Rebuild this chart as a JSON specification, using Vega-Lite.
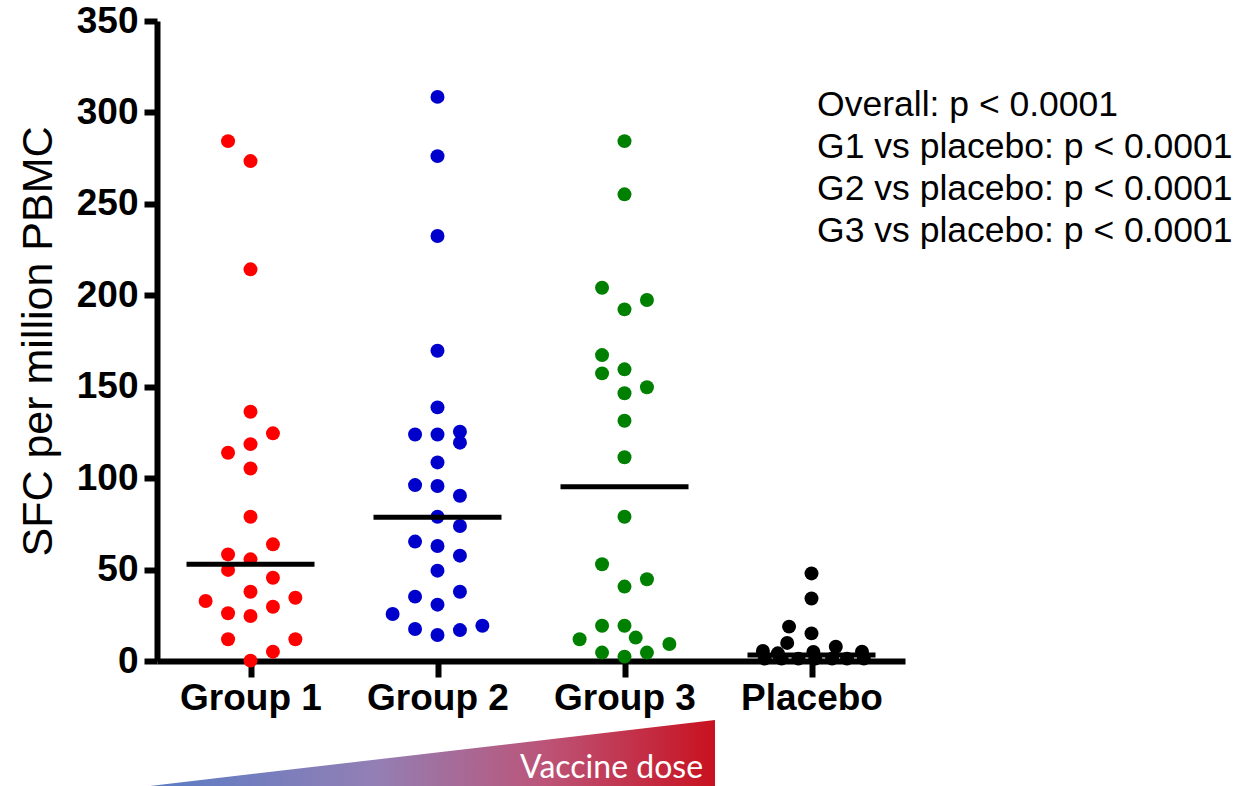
{
  "$schema": "https://vega.github.io/schema/vega-lite/v6.json",
  "autosize": {"type": "none"},
  "padding": {"left": 157, "top": 21, "right": 334, "bottom": 125},
  "width": 748,
  "height": 640,
  "config": {"view": {"stroke": null}, "font": "Liberation Sans"},
  "datasets": {
    "points": [
      {"group": "Group 1", "x": 0.88, "value": 284.3},
      {"group": "Group 1", "x": 1.0, "value": 273.4},
      {"group": "Group 1", "x": 1.0, "value": 214.2},
      {"group": "Group 1", "x": 1.0, "value": 136.3},
      {"group": "Group 1", "x": 1.12, "value": 124.5},
      {"group": "Group 1", "x": 1.0, "value": 118.6},
      {"group": "Group 1", "x": 0.88, "value": 113.9},
      {"group": "Group 1", "x": 1.0, "value": 105.3},
      {"group": "Group 1", "x": 1.0, "value": 78.9},
      {"group": "Group 1", "x": 1.12, "value": 63.8},
      {"group": "Group 1", "x": 0.88, "value": 58.3},
      {"group": "Group 1", "x": 1.0, "value": 55.6},
      {"group": "Group 1", "x": 0.88, "value": 49.8},
      {"group": "Group 1", "x": 1.12, "value": 45.5},
      {"group": "Group 1", "x": 1.0, "value": 37.9},
      {"group": "Group 1", "x": 0.76, "value": 32.8},
      {"group": "Group 1", "x": 1.24, "value": 34.6},
      {"group": "Group 1", "x": 0.88, "value": 26.1},
      {"group": "Group 1", "x": 1.12, "value": 29.7},
      {"group": "Group 1", "x": 1.0, "value": 24.6},
      {"group": "Group 1", "x": 0.88, "value": 11.9},
      {"group": "Group 1", "x": 1.24, "value": 11.9},
      {"group": "Group 1", "x": 1.12, "value": 5.1},
      {"group": "Group 1", "x": 1.0, "value": 0.2},
      {"group": "Group 2", "x": 2.0, "value": 308.5},
      {"group": "Group 2", "x": 2.0, "value": 276.1},
      {"group": "Group 2", "x": 2.0, "value": 232.4},
      {"group": "Group 2", "x": 2.0, "value": 169.7},
      {"group": "Group 2", "x": 2.0, "value": 138.7},
      {"group": "Group 2", "x": 1.88, "value": 123.9},
      {"group": "Group 2", "x": 2.0, "value": 123.9},
      {"group": "Group 2", "x": 2.12, "value": 125.4},
      {"group": "Group 2", "x": 2.12, "value": 119.4},
      {"group": "Group 2", "x": 2.0, "value": 108.6},
      {"group": "Group 2", "x": 1.88, "value": 96.2},
      {"group": "Group 2", "x": 2.0, "value": 95.7},
      {"group": "Group 2", "x": 2.12, "value": 90.4},
      {"group": "Group 2", "x": 2.0, "value": 78.9},
      {"group": "Group 2", "x": 2.12, "value": 73.8},
      {"group": "Group 2", "x": 1.88, "value": 65.3},
      {"group": "Group 2", "x": 2.0, "value": 62.9},
      {"group": "Group 2", "x": 2.12, "value": 57.6},
      {"group": "Group 2", "x": 2.0, "value": 49.4},
      {"group": "Group 2", "x": 1.88, "value": 35.2},
      {"group": "Group 2", "x": 2.12, "value": 37.9},
      {"group": "Group 2", "x": 2.0, "value": 30.8},
      {"group": "Group 2", "x": 1.76, "value": 25.7},
      {"group": "Group 2", "x": 1.88, "value": 17.5},
      {"group": "Group 2", "x": 2.0, "value": 14.2},
      {"group": "Group 2", "x": 2.12, "value": 16.9},
      {"group": "Group 2", "x": 2.24, "value": 19.3},
      {"group": "Group 3", "x": 3.0, "value": 284.3},
      {"group": "Group 3", "x": 3.0, "value": 255.2},
      {"group": "Group 3", "x": 2.88, "value": 204.1},
      {"group": "Group 3", "x": 3.12, "value": 197.4},
      {"group": "Group 3", "x": 3.0, "value": 192.3},
      {"group": "Group 3", "x": 2.88, "value": 167.3},
      {"group": "Group 3", "x": 2.88, "value": 157.3},
      {"group": "Group 3", "x": 3.0, "value": 159.5},
      {"group": "Group 3", "x": 3.0, "value": 146.4},
      {"group": "Group 3", "x": 3.12, "value": 149.7},
      {"group": "Group 3", "x": 3.0, "value": 131.4},
      {"group": "Group 3", "x": 3.0, "value": 111.4},
      {"group": "Group 3", "x": 3.0, "value": 78.9},
      {"group": "Group 3", "x": 2.88, "value": 52.9},
      {"group": "Group 3", "x": 3.0, "value": 40.7},
      {"group": "Group 3", "x": 3.12, "value": 44.7},
      {"group": "Group 3", "x": 2.88, "value": 19.3},
      {"group": "Group 3", "x": 3.0, "value": 19.3},
      {"group": "Group 3", "x": 2.76, "value": 11.9},
      {"group": "Group 3", "x": 3.06, "value": 12.8},
      {"group": "Group 3", "x": 3.24, "value": 9.3},
      {"group": "Group 3", "x": 2.88, "value": 4.6},
      {"group": "Group 3", "x": 3.0, "value": 2.4},
      {"group": "Group 3", "x": 3.12, "value": 4.6},
      {"group": "Placebo", "x": 4.0, "value": 47.9},
      {"group": "Placebo", "x": 4.0, "value": 34.2},
      {"group": "Placebo", "x": 3.88, "value": 18.8},
      {"group": "Placebo", "x": 4.0, "value": 15.1},
      {"group": "Placebo", "x": 3.87, "value": 9.9},
      {"group": "Placebo", "x": 4.13, "value": 7.8},
      {"group": "Placebo", "x": 3.74, "value": 5.5},
      {"group": "Placebo", "x": 4.27, "value": 5.1},
      {"group": "Placebo", "x": 4.01, "value": 5.0},
      {"group": "Placebo", "x": 3.82, "value": 4.2},
      {"group": "Placebo", "x": 3.75, "value": 1.3},
      {"group": "Placebo", "x": 3.84, "value": 1.3},
      {"group": "Placebo", "x": 3.93, "value": 1.3},
      {"group": "Placebo", "x": 4.02, "value": 1.3},
      {"group": "Placebo", "x": 4.11, "value": 1.3},
      {"group": "Placebo", "x": 4.19, "value": 1.3},
      {"group": "Placebo", "x": 4.28, "value": 1.3}
    ],
    "medians": [
      {"group": "Group 1", "x": 1, "median": 52.9},
      {"group": "Group 2", "x": 2, "median": 78.6},
      {"group": "Group 3", "x": 3, "median": 95.3},
      {"group": "Placebo", "x": 4, "median": 3.3}
    ],
    "dose": [
      {"dose": 0.4626, "level": -68.3},
      {"dose": 3.484, "level": -32.3}
    ],
    "one": [{"note": "annotation"}]
  },
  "layer": [
    {
      "data": {"name": "dose"},
      "mark": {
        "type": "area",
        "clip": false,
        "color": {
          "gradient": "linear", "x1": 0, "y1": 0, "x2": 1, "y2": 0,
          "stops": [
            {"offset": 0, "color": "#5a7cc6"},
            {"offset": 0.4, "color": "#937fb4"},
            {"offset": 0.7, "color": "#bc5478"},
            {"offset": 1, "color": "#c9111f"}
          ]
        }
      },
      "encoding": {
        "x": {"field": "dose", "type": "quantitative"},
        "y": {"field": "level", "type": "quantitative"},
        "y2": {"datum": -68.3}
      }
    },
    {
      "data": {"name": "one"},
      "mark": {"type": "text", "text": "Vaccine dose", "font": "Lato", "fontSize": 32, "color": "white", "align": "right", "baseline": "alphabetic", "clip": false},
      "encoding": {
        "x": {"datum": 3.42, "type": "quantitative"},
        "y": {"datum": -64, "type": "quantitative"}
      }
    },
    {
      "data": {"name": "points"},
      "mark": {"type": "circle", "size": 195, "opacity": 1},
      "encoding": {
        "x": {
          "field": "x", "type": "quantitative",
          "scale": {"domain": [0.5, 4.5], "nice": false, "zero": false},
          "axis": {
            "title": null, "values": [1, 2, 3, 4], "grid": false,
            "labelExpr": "datum.value == 1 ? 'Group 1' : datum.value == 2 ? 'Group 2' : datum.value == 3 ? 'Group 3' : 'Placebo'",
            "labelFont": "Liberation Sans", "labelFontSize": 37, "labelFontWeight": "bold", "labelColor": "black",
            "labelPadding": 3, "labelFlush": false, "labelOverlap": false,
            "domainColor": "black", "domainWidth": 6, "tickColor": "black", "tickWidth": 6, "tickSize": 16
          }
        },
        "y": {
          "field": "value", "type": "quantitative",
          "scale": {"domain": [0, 350], "nice": false, "zero": true},
          "axis": {
            "title": "SFC per million PBMC", "titleFont": "Liberation Sans", "titleFontSize": 43, "titleFontWeight": "normal", "titleColor": "black", "titlePadding": 16,
            "values": [0, 50, 100, 150, 200, 250, 300, 350], "grid": false,
            "labelFont": "Liberation Sans", "labelFontSize": 37, "labelFontWeight": "bold", "labelColor": "black",
            "labelPadding": 6, "labelFlush": false, "labelOverlap": false,
            "domainColor": "black", "domainWidth": 6, "tickColor": "black", "tickWidth": 6, "tickSize": 13
          }
        },
        "color": {
          "field": "group", "type": "nominal",
          "scale": {"domain": ["Group 1", "Group 2", "Group 3", "Placebo"], "range": ["#ff0000", "#0000cc", "#008000", "#000000"]},
          "legend": null
        }
      }
    },
    {
      "data": {"name": "medians"},
      "mark": {"type": "tick", "orient": "horizontal", "size": 128, "thickness": 5, "color": "black", "opacity": 1},
      "encoding": {
        "x": {"field": "x", "type": "quantitative"},
        "y": {"field": "median", "type": "quantitative"}
      }
    },
    {
      "data": {"name": "one"},
      "mark": {
        "type": "text",
        "text": ["Overall: p < 0.0001", "G1 vs placebo: p < 0.0001", "G2 vs placebo: p < 0.0001", "G3 vs placebo: p < 0.0001"],
        "font": "Liberation Sans", "fontSize": 35.5, "lineHeight": 42, "color": "black", "align": "left", "baseline": "alphabetic", "clip": false
      },
      "encoding": {
        "x": {"datum": 4.03, "type": "quantitative"},
        "y": {"datum": 298, "type": "quantitative"}
      }
    }
  ]
}
